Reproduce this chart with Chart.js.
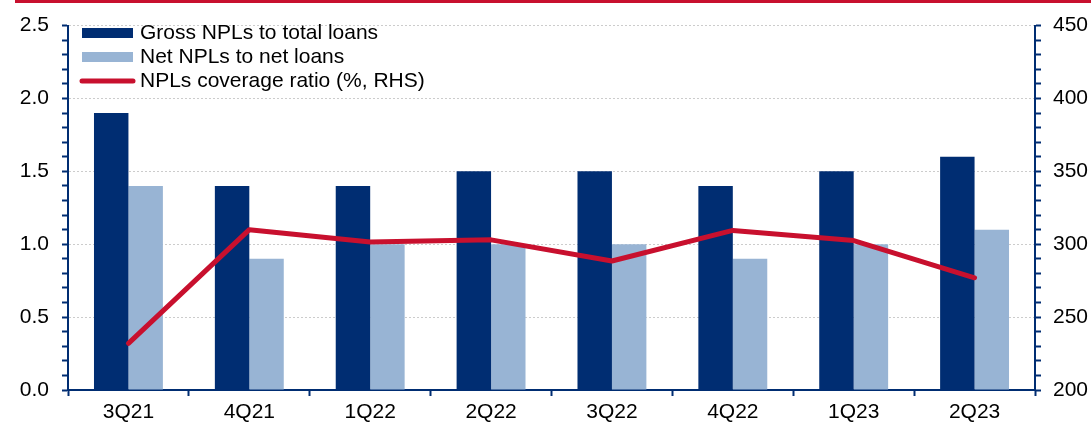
<!DOCTYPE html>
<html>
<head>
<meta charset="utf-8">
<title>NPL ratios</title>
<script src="https://cdn.jsdelivr.net/npm/chart.js@4.4.0/dist/chart.umd.min.js"></script>
<style>
  html, body { margin: 0; padding: 0; background: #ffffff; }
  #wrap { width: 1091px; height: 427px; position: relative; }
  canvas { display: block; }
</style>
</head>
<body>
<div id="wrap"><canvas id="npl" width="1091" height="427"></canvas></div>
<script>
// Quarters on the category axis
const quarters = ['3Q21', '4Q21', '1Q22', '2Q22', '3Q22', '4Q22', '1Q23', '2Q23'];

// Gross and net NPL ratios (%, left axis)
const grossNpl = [1.9, 1.4, 1.4, 1.5, 1.5, 1.4, 1.5, 1.6];
const netNpl = [1.4, 0.9, 1.0, 1.0, 1.0, 0.9, 1.0, 1.1];

// Coverage ratio (%, right axis)
const coverage = [232, 310, 301.5, 303, 288.5, 309.5, 302.5, 277];

// Series names
const seriesNames = ['Gross NPLs to total loans', 'Net NPLs to net loans', 'NPLs coverage ratio (%, RHS)'];

// Axis ranges
const leftAxis = { min: 0, max: 2.5, minor: 0.1, major: 0.5 };
const rightAxis = { min: 200, max: 450, minor: 10, major: 50 };

const NAVY = '#002d72';
const LIGHT = '#98b4d4';
const RED = '#c8102e';
const FONT = '"Liberation Sans", Arial, Helvetica, sans-serif';
const TEXT_SIZE = 21;

function isMajor(v, step) {
  const r = v / step;
  return Math.abs(r - Math.round(r)) < 1e-6;
}

// Thin red rule across the top of the figure
const topRule = {
  id: 'topRule',
  beforeDraw(chart) {
    const ctx = chart.ctx;
    ctx.save();
    ctx.fillStyle = RED;
    ctx.fillRect(15, 0, chart.width - 15, 3);
    ctx.restore();
  }
};

// Legend drawn inside the plot, top left
const insideLegend = {
  id: 'insideLegend',
  afterDatasetsDraw(chart) {
    const ctx = chart.ctx;
    const rows = [33, 57, 81];
    ctx.save();
    ctx.font = TEXT_SIZE + 'px ' + FONT;
    ctx.textBaseline = 'middle';
    ctx.textAlign = 'left';
    chart.data.datasets.forEach((ds, i) => {
      const y = rows[i];
      if (ds.type === 'line') {
        ctx.strokeStyle = ds.borderColor;
        ctx.lineWidth = 5;
        ctx.lineCap = 'round';
        ctx.beginPath();
        ctx.moveTo(82, y);
        ctx.lineTo(133, y);
        ctx.stroke();
      } else {
        ctx.fillStyle = ds.backgroundColor;
        ctx.fillRect(82, y - 5, 51, 10);
      }
      ctx.fillStyle = '#000000';
      ctx.fillText(ds.label, 140, y);
    });
    ctx.restore();
  }
};

new Chart(document.getElementById('npl'), {
  data: {
    labels: quarters,
    datasets: [
      {
        type: 'bar',
        label: seriesNames[0],
        data: grossNpl,
        backgroundColor: NAVY,
        yAxisID: 'y',
        order: 2,
        categoryPercentage: 0.57,
        barPercentage: 1.0
      },
      {
        type: 'bar',
        label: seriesNames[1],
        data: netNpl,
        backgroundColor: LIGHT,
        yAxisID: 'y',
        order: 2,
        categoryPercentage: 0.57,
        barPercentage: 1.0
      },
      {
        type: 'line',
        label: seriesNames[2],
        data: coverage,
        borderColor: RED,
        backgroundColor: RED,
        borderWidth: 5,
        borderCapStyle: 'round',
        borderJoinStyle: 'round',
        pointRadius: 0,
        tension: 0,
        yAxisID: 'y1',
        order: 1
      }
    ]
  },
  options: {
    responsive: false,
    animation: false,
    devicePixelRatio: 1,
    layout: { padding: { top: 23, left: 0, right: 0, bottom: 0 } },
    plugins: {
      legend: { display: false },
      tooltip: { enabled: false }
    },
    scales: {
      x: {
        type: 'category',
        offset: true,
        afterFit(scale) { scale.height = 37; },
        grid: {
          offset: true,
          drawOnChartArea: false,
          drawTicks: true,
          tickLength: 6,
          tickColor: NAVY,
          tickWidth: 2
        },
        border: { display: true, color: NAVY, width: 2 },
        ticks: {
          color: '#000000',
          font: { family: FONT, size: TEXT_SIZE },
          padding: 4,
          maxRotation: 0,
          autoSkip: false
        }
      },
      y: {
        type: 'linear',
        position: 'left',
        min: leftAxis.min,
        max: leftAxis.max,
        afterFit(scale) { scale.width = 68; },
        grid: {
          drawOnChartArea: true,
          color: (c) => (c.tick && isMajor(c.tick.value, leftAxis.major) && c.tick.value > 0) ? '#cccccc' : 'rgba(0,0,0,0)',
          lineWidth: 1,
          drawTicks: true,
          tickLength: 6,
          tickColor: NAVY,
          tickWidth: 2
        },
        border: { display: true, color: NAVY, width: 2, dash: [2, 2] },
        ticks: {
          stepSize: leftAxis.minor,
          autoSkip: false,
          color: '#000000',
          font: { family: FONT, size: TEXT_SIZE },
          padding: 13,
          callback: (v) => isMajor(v, leftAxis.major) ? v.toFixed(1) : ''
        }
      },
      y1: {
        type: 'linear',
        position: 'right',
        min: rightAxis.min,
        max: rightAxis.max,
        afterFit(scale) { scale.width = 56; },
        grid: {
          drawOnChartArea: false,
          drawTicks: true,
          tickLength: 6,
          tickColor: NAVY,
          tickWidth: 2
        },
        border: { display: true, color: NAVY, width: 2 },
        ticks: {
          stepSize: rightAxis.minor,
          autoSkip: false,
          color: '#000000',
          font: { family: FONT, size: TEXT_SIZE },
          padding: 12,
          callback: (v) => isMajor(v, rightAxis.major) ? String(v) : ''
        }
      }
    }
  },
  plugins: [topRule, insideLegend]
});
</script>
</body>
</html>
